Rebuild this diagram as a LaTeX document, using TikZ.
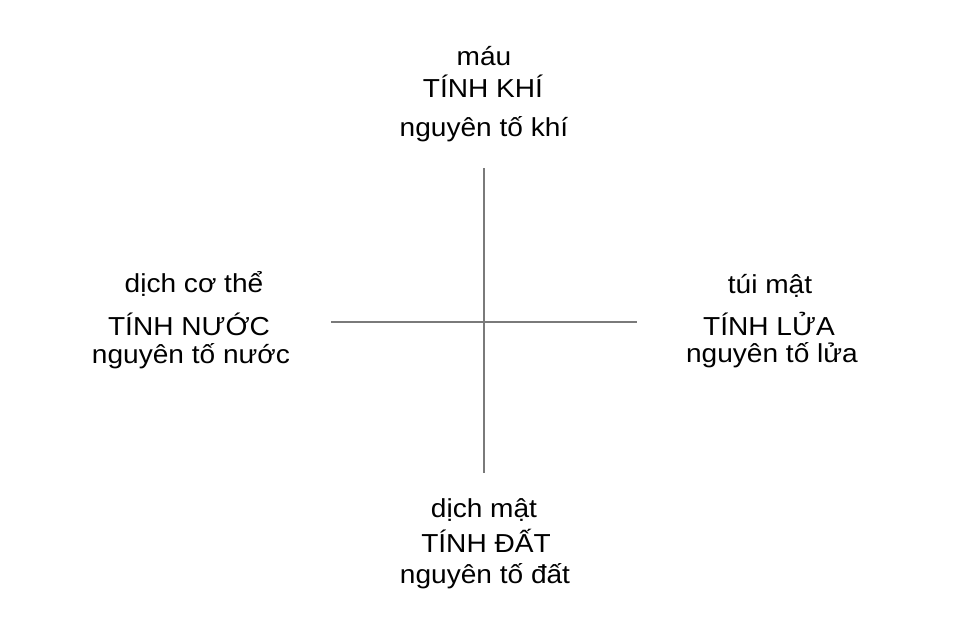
\documentclass[tikz,border=0pt]{standalone}
\usepackage{fontspec}
\setmainfont{Liberation Sans}[FakeStretch=1.08]
\usepackage{tikz}
\usetikzlibrary{positioning}
\tikzset{humour text/.style={anchor=base, inner sep=0pt, font=\fontsize{19.5}{23}\selectfont}}
\tikzset{axis line/.style={draw=black!52, line width=1.5pt}}

\begin{document}
\begin{tikzpicture}
  [x=0.75pt, y=-0.75pt]
  \useasboundingbox (0,0) rectangle (960,642);

  \node [humour text] (air1)   at (484, 65) {máu};
  \node [humour text] (air2)   at (483, 98) {TÍNH KHÍ};
  \node [humour text] (air3)   at (484,136) {nguyên tố khí};

  \node [humour text] (water1) at (194,292) {dịch cơ thể};
  \node [humour text] (water2) at (189,335) {TÍNH NƯỚC};
  \node [humour text] (water3) at (191,363) {nguyên tố nước};

  \node [humour text] (fire1)  at (770,293) {túi mật};
  \node [humour text] (fire2)  at (769,335) {TÍNH LỬA};
  \node [humour text] (fire3)  at (772,362) {nguyên tố lửa};

  \node [humour text] (earth1) at (484,517) {dịch mật};
  \node [humour text] (earth2) at (486,552) {TÍNH ĐẤT};
  \node [humour text] (earth3) at (485,583) {nguyên tố đất};

  \coordinate (vtop)   at (484,168);
  \coordinate (vbot)   at (484,473);
  \coordinate (hleft)  at (331,322);
  \coordinate (hright) at (637,322);

  \draw [axis line] (vtop)  -- (vbot);
  \draw [axis line] (hleft) -- (hright);
\end{tikzpicture}
\end{document}
